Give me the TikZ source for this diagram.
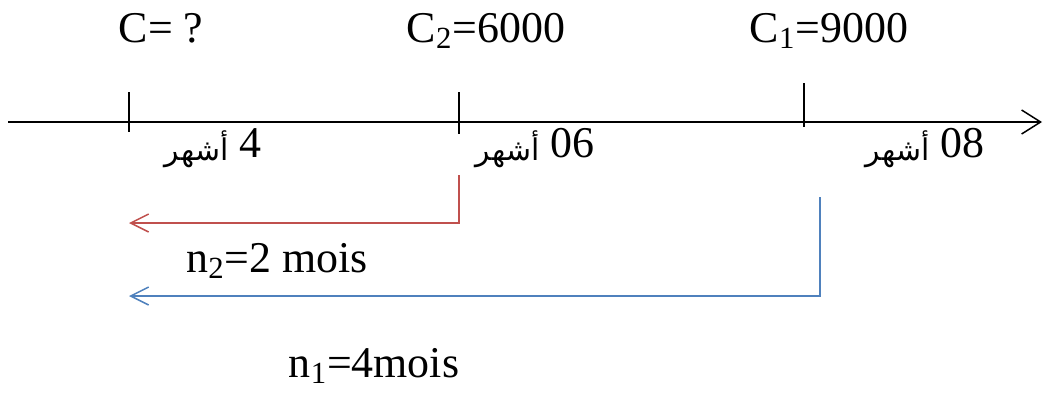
\documentclass[tikz,border=0pt]{standalone}
\usepackage{fontspec}
\setmainfont{Liberation Serif}
\newfontfamily\arabicfont[Script=Arabic]{DejaVu Sans}
\TeXXeTstate=1
\usetikzlibrary{arrows.meta, positioning}

\definecolor{arrowred}{RGB}{192,80,77}
\definecolor{arrowblue}{RGB}{79,129,189}

\newcommand{\months}[1]{\beginR #1 \raisebox{-2pt}{\arabicfont\fontsize{17}{19}\selectfont أشهر}\endR}

\begin{document}
\begin{tikzpicture}[
    x=0.02cm, y=-0.02cm,
    amount/.style={font=\fontsize{25}{30}\selectfont, inner sep=0pt, anchor=base},
    axis/.style={line width=0.85pt, -{Straight Barb[length=0.38cm, width=0.48cm]}},
    tickmark/.style={line width=0.85pt},
    redarrow/.style={line width=0.85pt, arrowred, -{Straight Barb[length=0.36cm, width=0.36cm]}},
    bluearrow/.style={line width=0.85pt, arrowblue, -{Straight Barb[length=0.36cm, width=0.36cm]}}
]
    \useasboundingbox (0,0) rectangle (1047,392);

    % time axis
    \coordinate (start) at (8,122);
    \coordinate (end) at (1042,122);
    \coordinate (t1) at (129,122);
    \coordinate (t2) at (459,122);
    \coordinate (t3) at (804,122);

    \draw [axis] (start) -- (end);
    \draw [tickmark] (t1) ++(0,-30) -- ++(0,40);
    \draw [tickmark] (t2) ++(0,-30) -- ++(0,42);
    \draw [tickmark] (t3) ++(0,-39) -- ++(0,44);

    % capitals
    \node [amount] (c) at (161,42) {C= ?};
    \node [amount] (c2) at (486,42) {C\textsubscript{2}=6000};
    \node [amount] (c1) at (829,42) {C\textsubscript{1}=9000};

    % months
    \node [amount] (m1) at (213,157) {\months{4}};
    \node [amount] (m2) at (535,157) {\months{06}};
    \node [amount] (m3) at (925,157) {\months{08}};

    % durations
    \coordinate (r0) at (459,175);
    \coordinate (rend) at (129,223);
    \coordinate (b0) at (820,197);
    \coordinate (bend) at (129,296);

    \draw [redarrow] (r0) |- (rend);
    \draw [bluearrow] (b0) |- (bend);

    \node [amount] (n2) at (277,272) {n\textsubscript{2}=2 mois};
    \node [amount] (n1) at (374,377) {n\textsubscript{1}=4mois};
\end{tikzpicture}
\end{document}
